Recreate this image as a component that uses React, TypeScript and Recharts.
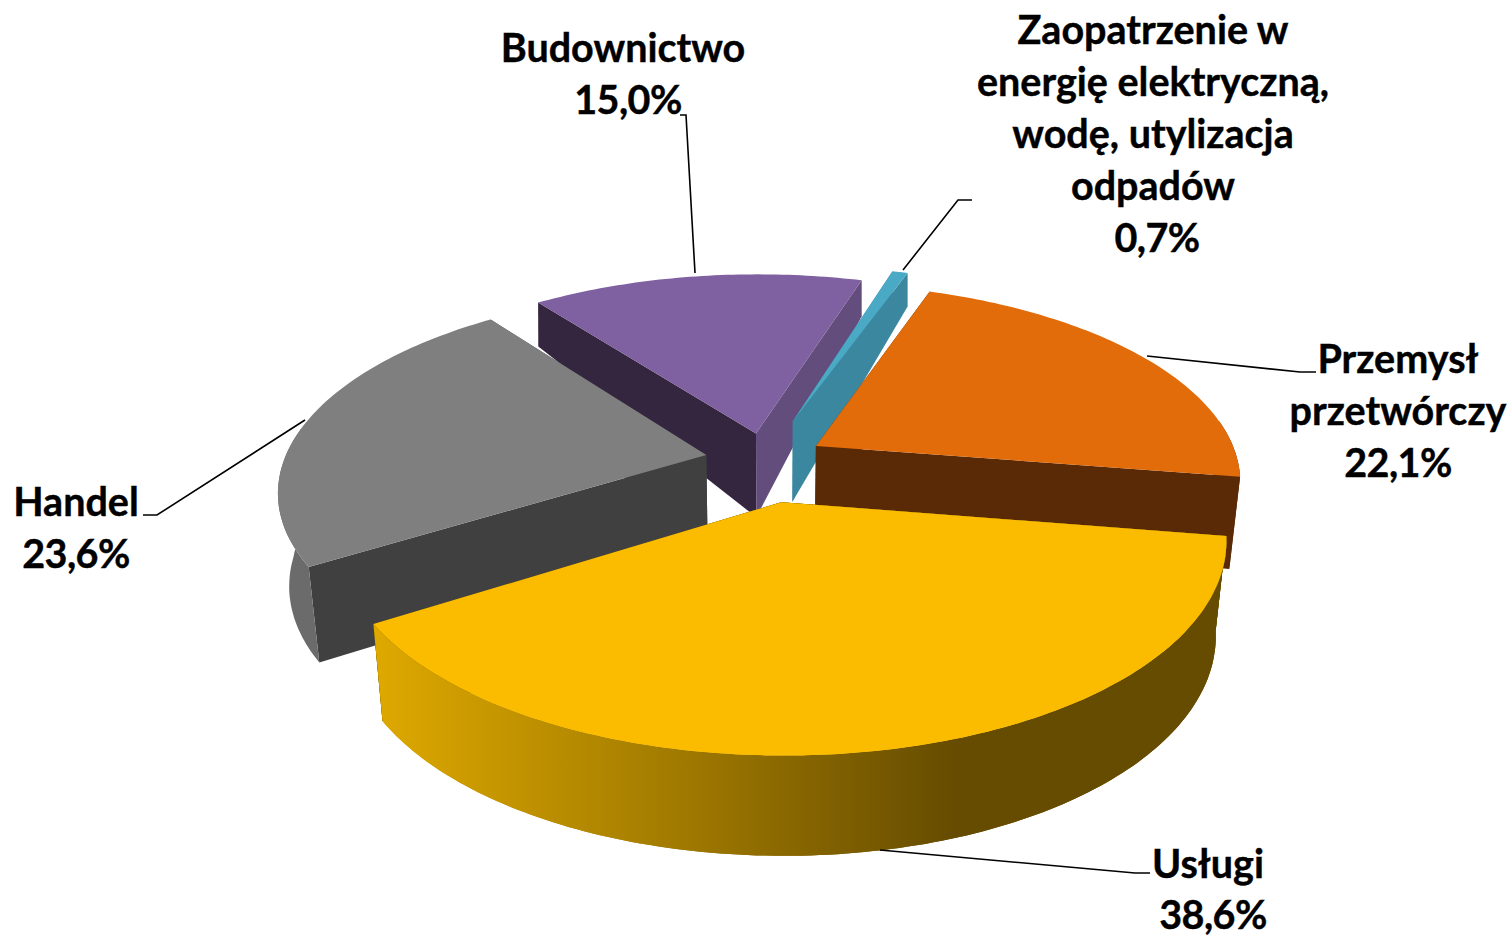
import React from "react";
import { PieChart, Pie } from "recharts";

const names = ["Budownictwo", "Zaopatrzenie", "Przemysł", "Usługi", "Handel"];
const shares = [15.0, 0.7, 22.1, 38.6, 23.6];
const labelLines = [
  ["Budownictwo"],
  ["Zaopatrzenie w", "energię elektryczną,", "wodę, utylizacja", "odpadów"],
  ["Przemysł", "przetwórczy"],
  ["Usługi"],
  ["Handel"],
];

const data = names.map((name, i) => ({ name, value: shares[i] }));

const topColors = ["#7f60a0", "#4aa9c4", "#e26b0a", "#fbbc00", "#7f7f7f"];
const rimColors = ["#35263f", "#3b87a0", "#5a2a06", "url(#rimUslugi)", "#6b6b6b"];
const startFaces = ["#35263f", "#3b87a0", "#5a2a06", "#664c00", "#404040"];
const endFaces = ["#634d7c", "#3b87a0", "#5a2a06", "#664c00", "#404040"];
const explode = [0.16, 0.16, 0.135, 0.2, 0.143];
const lift = [0.008, 0.08, 0.03, 0.012, 0.025];
const nudge = [0, 0.012, 0, -0.008, -0.005];

// label block centre, first baseline, x and baseline of the percent line, leader polyline
const labelPos = [
  { x: 623, y: 62, pctX: 628, pctY: 114, leader: "695,273 686,115 680,115" },
  { x: 1153, y: 44, pctX: 1157, pctY: 252, leader: "903,270 958,200 972,200" },
  { x: 1398, y: 373, pctX: 1398, pctY: 477, leader: "1147,356 1300,372 1316,372" },
  { x: 1208, y: 878, pctX: 1213, pctY: 929, leader: "880,850 1135,873 1150,873" },
  { x: 76, y: 516, pctX: 76, pctY: 568, leader: "305,420 157,515 143,515" },
];

const RADIUS = 424;
const PERSPECTIVE = 0.17;
const Y_SCALE = 196 / RADIUS;
const LINE_HEIGHT = 52;

const RAD = Math.PI / 180;

const depthAt = (v: number) => (v < 0 ? 92 - 7 * v : 92 - 50 * v);

function project(cx: number, cy: number, r: number, u: number, v: number, z: number) {
  const w = 1 + PERSPECTIVE * v;
  const shrink = 0.023 * Math.max(0, Math.min(1, 1 - v));
  const x = cx + ((r * u) / w) * (1 - shrink * z);
  const y = cy - (r * Y_SCALE * v) / w + z * depthAt(v);
  return `${x.toFixed(1)},${y.toFixed(1)}`;
}

function Slice3D(props: any) {
  const { cx, cy, outerRadius, startAngle, endAngle, midAngle, name } = props;
  const i = names.indexOf(name ?? props.payload?.name);
  const e = explode[i];
  const ox = e * Math.cos(midAngle * RAD) + nudge[i];
  const oy = e * Math.sin(midAngle * RAD) + lift[i];

  const at = (deg: number, rad: number, z: number) =>
    project(cx, cy, outerRadius, ox + rad * Math.cos(deg * RAD), oy + rad * Math.sin(deg * RAD), z);

  const angles: number[] = [];
  const steps = Math.max(4, Math.ceil(Math.abs(endAngle - startAngle)));
  for (let s = 0; s <= steps; s++) angles.push(startAngle + ((endAngle - startAngle) * s) / steps);

  const topArc = angles.map((a) => at(a, 1, 0));
  // back part of the rim can't be seen, it only pokes out past the cut faces
  const rimAngles = angles.filter((a) => Math.sin(a * RAD) < 0.15);
  const rimTop = rimAngles.map((a) => at(a, 1, 0));
  const rimBottom = rimAngles.map((a) => at(a, 1, 1)).reverse();
  const apexTop = at(0, 0, 0);
  const apexBottom = at(0, 0, 1);

  return (
    <g>
      <defs>
        <linearGradient id="rimUslugi" gradientUnits="userSpaceOnUse" x1="372" y1="0" x2="1228" y2="0">
          <stop offset="0" stopColor="#dfa900" />
          <stop offset="0.3" stopColor="#ab8200" />
          <stop offset="0.68" stopColor="#664c00" />
          <stop offset="1" stopColor="#664c00" />
        </linearGradient>
      </defs>
      <polygon
        points={[apexTop, at(startAngle, 1, 0), at(startAngle, 1, 1), apexBottom].join(" ")}
        fill={startFaces[i]}
      />
      <polygon
        points={[apexTop, at(endAngle, 1, 0), at(endAngle, 1, 1), apexBottom].join(" ")}
        fill={endFaces[i]}
      />
      {rimAngles.length > 1 && <polygon points={[...rimTop, ...rimBottom].join(" ")} fill={rimColors[i]} />}
      <polygon points={[apexTop, ...topArc].join(" ")} fill={topColors[i]} />
    </g>
  );
}

// Usługi has to sit in front of Handel, so it gets painted again by a second Pie
function FrontSlice(props: any) {
  if ((props.name ?? props.payload?.name) !== "Usługi") return <g />;
  return <Slice3D {...props} />;
}

const renderLabel = (props: any) => {
  const i = names.indexOf(props.name ?? props.payload?.name);
  const pos = labelPos[i];
  const lines = labelLines[i];
  const pct = shares[i].toFixed(1).replace(".", ",") + "%";
  return (
    <g key={names[i]}>
      <polyline points={pos.leader} fill="none" stroke="#000" strokeWidth={1.6} />
      <text
        fontFamily="Lato, sans-serif"
        fontWeight={700}
        fontSize={39.5}
        fill="#000"
        stroke="#000"
        strokeWidth={0.4}
        textAnchor="middle"
      >
        {lines.map((t, n) => (
          <tspan key={t} x={pos.x} y={pos.y + n * LINE_HEIGHT}>
            {t}
          </tspan>
        ))}
        <tspan x={pos.pctX} y={pos.pctY} letterSpacing={-0.6}>
          {pct}
        </tspan>
      </text>
    </g>
  );
};

export default function App() {
  return (
    <div style={{ position: "absolute", left: 0, top: 0, width: 1509, height: 936 }}>
      <PieChart width={1509} height={936} margin={{ top: 0, right: 0, bottom: 0, left: 0 }}>
        <Pie
          data={data}
          dataKey="value"
          nameKey="name"
          cx={767.5}
          cy={465}
          innerRadius={0}
          outerRadius={RADIUS}
          startAngle={127}
          endAngle={-233}
          stroke="none"
          shape={Slice3D}
          isAnimationActive={false}
        />
        <Pie
          data={data}
          dataKey="value"
          nameKey="name"
          cx={767.5}
          cy={465}
          innerRadius={0}
          outerRadius={RADIUS}
          startAngle={127}
          endAngle={-233}
          stroke="none"
          shape={FrontSlice}
          label={renderLabel}
          labelLine={false}
          isAnimationActive={false}
        />
      </PieChart>
    </div>
  );
}
